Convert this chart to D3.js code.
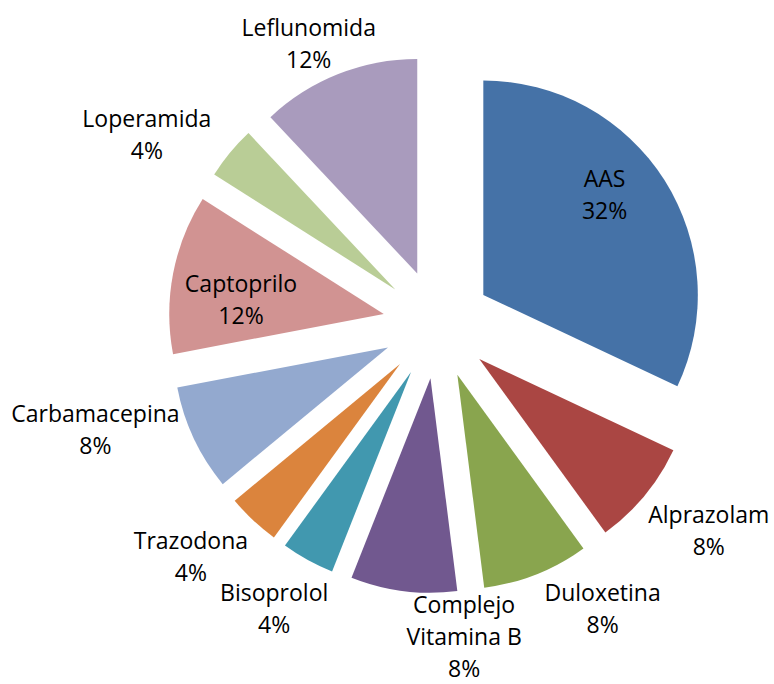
<!DOCTYPE html>
<html>
<head>
<meta charset="utf-8">
<script src="https://cdn.jsdelivr.net/npm/d3@7"></script>
<style>
  html, body { margin: 0; padding: 0; background: #fff; }
  svg { display: block; }
  text { font-family: "Open Sans", "Lato", sans-serif; fill: #000; }
</style>
</head>
<body>
<svg id="chart" width="774" height="684"></svg>
<script>
const categories = ["AAS", "Alprazolam", "Duloxetina", "Complejo Vitamina B", "Bisoprolol",
                    "Trazodona", "Carbamacepina", "Captoprilo", "Loperamida", "Leflunomida"];
const counts = [8, 2, 2, 2, 1, 1, 2, 3, 1, 3];
const colors = ["#4572A7", "#AA4643", "#89A54E", "#71588F", "#4198AF",
                "#DB843D", "#93A9CF", "#D19392", "#B9CD96", "#A99BBD"];

// label placement relative to the outer midpoint of each exploded slice,
// in units of half the label box (width/2, height/2)
const labelOffsets = [[-2.64, 0.45], [1.06, 1.10], [1.14, 1.09], [1.05, 0.95], [-0.62, 1.53],
                      [-1.09, 1.14], [-1.17, -0.28], [1.21, 0.80], [-1.29, -0.55], [-0.44, -0.96]];

const width = 774, height = 684;
const cx = 437.3, cy = 324.2;
const radius = 214.5;
const explode = 54.5;
const fontSize = 23;
const lineH = 32;
const capH = 16.5;

const svg = d3.select("#chart");
const total = d3.sum(counts);
const fmt = d3.format(".0%");

const data = categories.map((c, i) => ({ name: c, value: counts[i], color: colors[i], off: labelOffsets[i] }));
const pie = d3.pie().value(d => d.value).sort(null);
const arcs = pie(data);
const arc = d3.arc().innerRadius(0).outerRadius(radius);

const g = svg.append("g").attr("transform", `translate(${cx},${cy})`);

arcs.forEach(a => {
  const mid = (a.startAngle + a.endAngle) / 2;
  a.dir = [Math.sin(mid), -Math.cos(mid)];
});

g.selectAll("path.slice")
  .data(arcs)
  .join("path")
  .attr("class", "slice")
  .attr("d", arc)
  .attr("fill", d => d.data.color)
  .attr("transform", d => `translate(${d.dir[0] * explode},${d.dir[1] * explode})`);

function lines(d) {
  const name = d.data.name;
  let nameLines = [name];
  if (name.length > 12 && name.indexOf(" ") > 0) {
    const k = name.indexOf(" ");
    nameLines = [name.slice(0, k), name.slice(k + 1)];
  }
  return nameLines.concat([fmt(d.data.value / total)]);
}

const labels = g.selectAll("text.lbl")
  .data(arcs)
  .join("text")
  .attr("class", "lbl")
  .attr("text-anchor", "middle")
  .style("font-size", fontSize + "px");

labels.each(function(d) {
  const t = d3.select(this);
  const ls = lines(d);
  ls.forEach((s, i) => {
    t.append("tspan").attr("x", 0).attr("dy", i === 0 ? 0 : lineH).text(s);
  });
  let w = 0;
  t.selectAll("tspan").each(function() { w = Math.max(w, this.getComputedTextLength()); });
  const h = ls.length * lineH;
  const R = explode + radius;
  const px = d.dir[0] * R + d.data.off[0] * w / 2;
  const py = d.dir[1] * R + d.data.off[1] * h / 2;
  const firstBaseline = py + capH / 2 - (ls.length - 1) * lineH / 2;
  t.attr("transform", `translate(${px},${firstBaseline})`);
});
</script>
</body>
</html>
